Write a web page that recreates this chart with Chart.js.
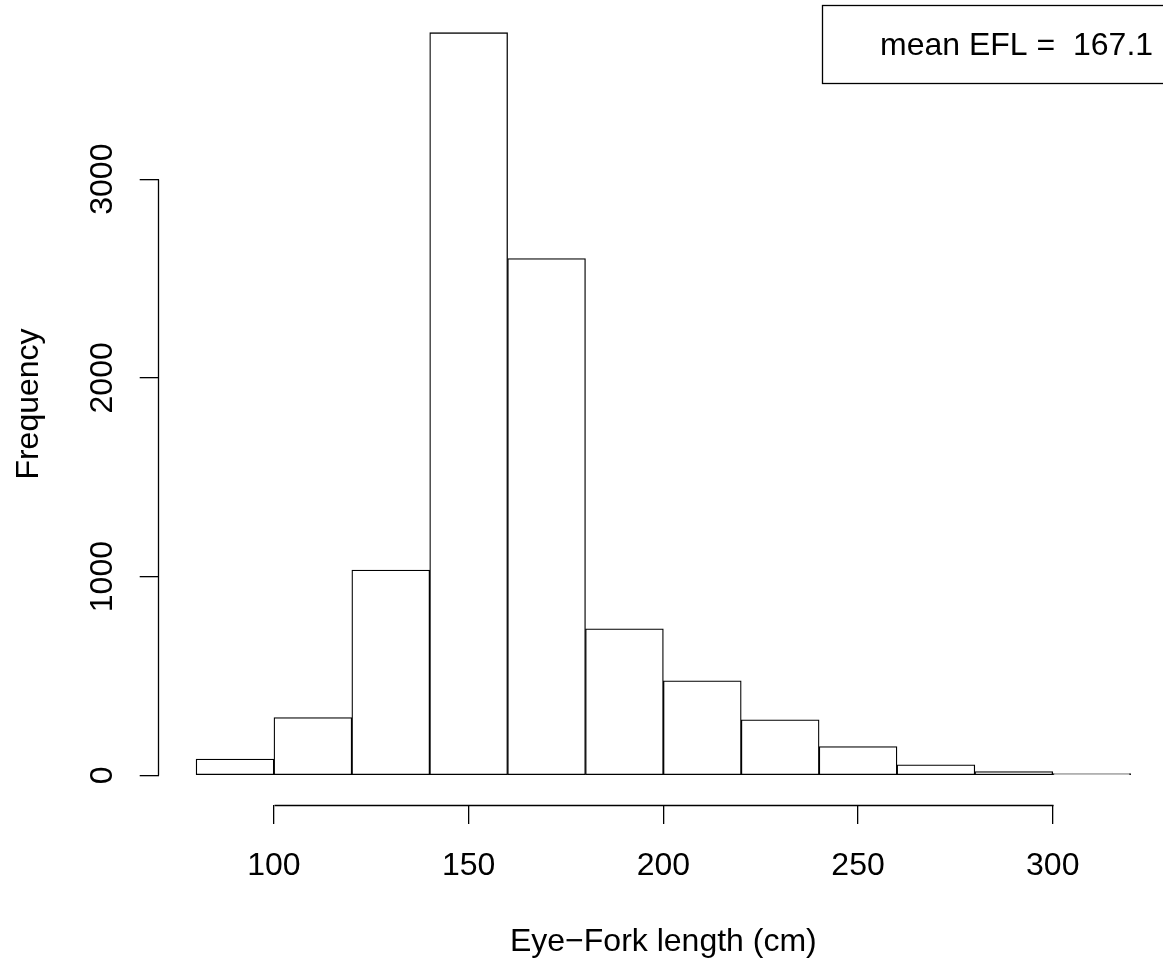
<!DOCTYPE html>
<html><head><meta charset="utf-8">
<script src="https://cdn.jsdelivr.net/npm/chart.js@4.4.1/dist/chart.umd.min.js"></script>
<style>html,body{margin:0;padding:0;background:#fff;overflow:hidden}canvas{display:block}</style>
</head><body>
<canvas id="c" width="1168" height="962"></canvas>
<script>
// ---- data ----
const binEdges = [80,100,120,140,160,180,200,220,240,260,280,300,320];
const counts = [82,291,1033,3737,2600,737,476,279,145,53,19,9];
const xTickLabels = [100,150,200,250,300];
const yTickLabels = [0,1000,2000,3000];
const xTitle = 'Eye\u2212Fork length (cm)';
const yTitle = 'Frequency';
const legendText = 'mean EFL =  167.1';

// ---- derived (R-style 4% axis extension) ----
const mids = counts.map((c,i)=>(binEdges[i]+binEdges[i+1])/2);
const points = counts.map((c,i)=>({x:mids[i], y:c}));
const xLo = binEdges[0], xHi = binEdges[binEdges.length-1];
const xPad = (xHi-xLo)*0.04;
const yMaxData = Math.max(...counts);
const FONT = '32px "Liberation Sans", Arial, Helvetica, sans-serif';
const LW = 1.3;

const rAxes = {
  id:'rAxes',
  afterDraw(chart){
    const ctx = chart.ctx, xs = chart.scales.x, ys = chart.scales.y, ca = chart.chartArea;
    ctx.save();
    ctx.strokeStyle = '#000'; ctx.lineWidth = LW; ctx.fillStyle = '#000';
    // x axis line
    const yAx = Math.round(ca.bottom)+0.5;
    ctx.beginPath();
    ctx.moveTo(Math.round(xs.getPixelForValue(xTickLabels[0]))+0.5, yAx);
    ctx.lineTo(Math.round(xs.getPixelForValue(xTickLabels[xTickLabels.length-1]))+0.5, yAx);
    ctx.stroke();
    // y axis line
    const xAx = Math.round(ca.left)-0.5;
    ctx.beginPath();
    ctx.moveTo(xAx, Math.round(ys.getPixelForValue(yTickLabels[0]))+0.5);
    ctx.lineTo(xAx, Math.round(ys.getPixelForValue(yTickLabels[yTickLabels.length-1]))+0.5);
    ctx.stroke();
    ctx.font = FONT;
    // x tick labels
    ctx.textAlign = 'center'; ctx.textBaseline = 'alphabetic';
    xTickLabels.forEach(v=>ctx.fillText(String(v), xs.getPixelForValue(v), ca.bottom+70));
    // y tick labels (rotated)
    yTickLabels.forEach(v=>{
      ctx.save();
      ctx.translate(ca.left-47, ys.getPixelForValue(v));
      ctx.rotate(-Math.PI/2);
      ctx.fillText(String(v), 0, 0);
      ctx.restore();
    });
    // axis titles
    ctx.fillText(xTitle, (ca.left+ca.right)/2, ca.bottom+146);
    ctx.save();
    ctx.translate(ca.left-121, (ca.top+ca.bottom)/2);
    ctx.rotate(-Math.PI/2);
    ctx.fillText(yTitle, 0, 0);
    ctx.restore();
    // legend box
    const bx = Math.round(ca.right-346)+0.5, by = Math.round(ca.top+2)+0.5;
    ctx.strokeRect(bx, by, 400, 78);
    ctx.textAlign = 'left';
    ctx.fillText(legendText, bx+57.5, by+49.5);
    ctx.restore();
  }
};

new Chart(document.getElementById('c'), {
  type:'bar',
  data:{datasets:[{
    data: points,
    backgroundColor:'#ffffff',
    borderColor:'#000000',
    borderWidth:1.3,
    borderSkipped:false,
    barPercentage:1,
    categoryPercentage:1
  }]},
  options:{
    responsive:false,
    animation:false,
    devicePixelRatio:1,
    layout:{padding:{top:3,left:0,right:0,bottom:0}},
    plugins:{legend:{display:false},tooltip:{enabled:false},title:{display:false}},
    scales:{
      x:{
        type:'linear', min:xLo-xPad, max:xHi+xPad, offset:false,
        afterBuildTicks:(s)=>{s.ticks = xTickLabels.map(v=>({value:v}));},
        afterFit:(s)=>{s.height = 157;},
        ticks:{display:false},
        border:{display:false},
        grid:{display:true, offset:false, drawOnChartArea:false, drawTicks:true, tickLength:19, color:'#000', lineWidth:LW}
      },
      y:{
        type:'linear', min:-yMaxData*0.04, max:yMaxData*1.04,
        afterBuildTicks:(s)=>{s.ticks = yTickLabels.map(v=>({value:v}));},
        afterFit:(s)=>{s.width = 158.7;},
        ticks:{display:false},
        border:{display:false},
        grid:{display:true, drawOnChartArea:false, drawTicks:true, tickLength:19, color:'#000', lineWidth:LW}
      }
    }
  },
  plugins:[rAxes]
});
</script>
</body></html>
